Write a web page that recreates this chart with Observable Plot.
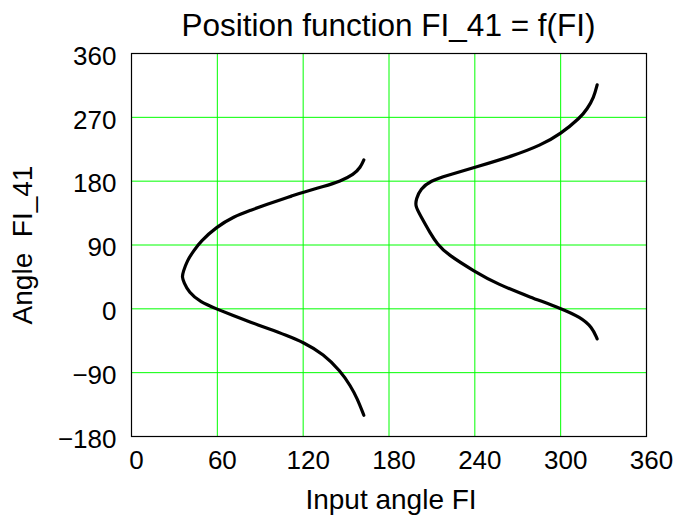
<!DOCTYPE html>
<html>
<head>
<meta charset="utf-8">
<script src="https://cdn.jsdelivr.net/npm/d3@7"></script>
<script src="https://cdn.jsdelivr.net/npm/@observablehq/plot@0.6"></script>
<style>
  html, body { margin: 0; padding: 0; background: white; }
  #title {
    box-sizing: border-box;
    width: 680px; height: 44px;
    padding-top: 5px; padding-left: 97px;
    line-height: 40px;
    text-align: center;
    font-family: "Liberation Sans", Arial, sans-serif;
    font-size: 31.5px; color: black;
    white-space: nowrap;
  }
</style>
</head>
<body>
<div id="title">Position function FI_41 = f(FI)</div>
<div id="chart"></div>
<script>
// Branch 1 (input angle FI, output angle FI_41)
const branch1FI   = [162.4, 160.1, 155.4, 146.1, 134.4, 120, 111.1, 106.5, 95, 83.2, 71.5, 59.4, 48.2, 43.5, 38.9, 36.1, 35.3, 36.6, 40, 48.2, 59.4, 71, 83.2, 96, 108, 120, 134.4, 146.1, 153.1, 157.8, 162.4];
const branch1FI41 = [210, 199.6, 189.4, 180, 172.5, 164.5, 158.4, 155.5, 147.5, 139, 130, 115.5, 95, 82, 68, 52, 45, 37.4, 23.3, 9.2, 0, -9.5, -18.8, -28.2, -37.2, -47, -64, -88, -108.5, -126.4, -150];
// Branch 2
const branch2FI   = [325.5, 323.2, 318.5, 313.9, 300, 285.9, 267.2, 240, 220.7, 209, 202, 199, 198.3, 202, 209, 213.7, 220.7, 240, 255.6, 278.9, 300, 313.9, 322, 325.5];
const branch2FI41 = [315.9, 298, 281.7, 270, 246.5, 230.5, 216, 199.5, 188, 180.5, 169, 155, 145, 131.4, 106, 91.5, 77, 52.5, 35.1, 16.3, 0.8, -11.9, -26, -42.4];

const xTicks = [0, 60, 120, 180, 240, 300, 360];
const yTicks = [-180, -90, 0, 90, 180, 270, 360];

const xLabel = "Input angle FI";
const yLabel = "Angle  FI_41";

const branches = [
  branch1FI.map((fi, i) => ({branch: 1, fi, fi41: branch1FI41[i]})),
  branch2FI.map((fi, i) => ({branch: 2, fi, fi41: branch2FI41[i]}))
].flat();

const font = '"Liberation Sans", Arial, sans-serif';

const chart = Plot.plot({
  width: 680,
  height: 473,
  marginLeft: 131,
  marginRight: 34,
  marginTop: 9,
  marginBottom: 81,
  x: {domain: [0, 360]},
  y: {domain: [-180, 360]},
  style: {fontFamily: font, fontSize: "26px", background: "white", color: "black", overflow: "visible"},
  marks: [
    Plot.gridX(xTicks, {stroke: "#00ff00", strokeOpacity: 1, strokeWidth: 1}),
    Plot.gridY(yTicks, {stroke: "#00ff00", strokeOpacity: 1, strokeWidth: 1}),
    Plot.frame({stroke: "black", strokeWidth: 1.2}),
    Plot.line(branches, {x: "fi", y: "fi41", z: "branch", stroke: "black", strokeWidth: 3.2, curve: "basis"}),
    Plot.axisX(xTicks, {tickSize: 0, tickPadding: 14, dx: 5, fontSize: 26, label: null}),
    Plot.axisY(yTicks, {tickSize: 0, tickPadding: 15, dy: 3, fontSize: 26, label: null}),
    Plot.text([xLabel], {frameAnchor: "bottom", dy: 64, dx: 2, lineAnchor: "middle", textAnchor: "middle", fontSize: 28, fill: "black"}),
    Plot.text([yLabel], {frameAnchor: "left", dx: -108, rotate: -90, lineAnchor: "middle", textAnchor: "middle", fontSize: 28, fill: "black"})
  ]
});
document.getElementById("chart").appendChild(chart);
</script>
</body>
</html>
